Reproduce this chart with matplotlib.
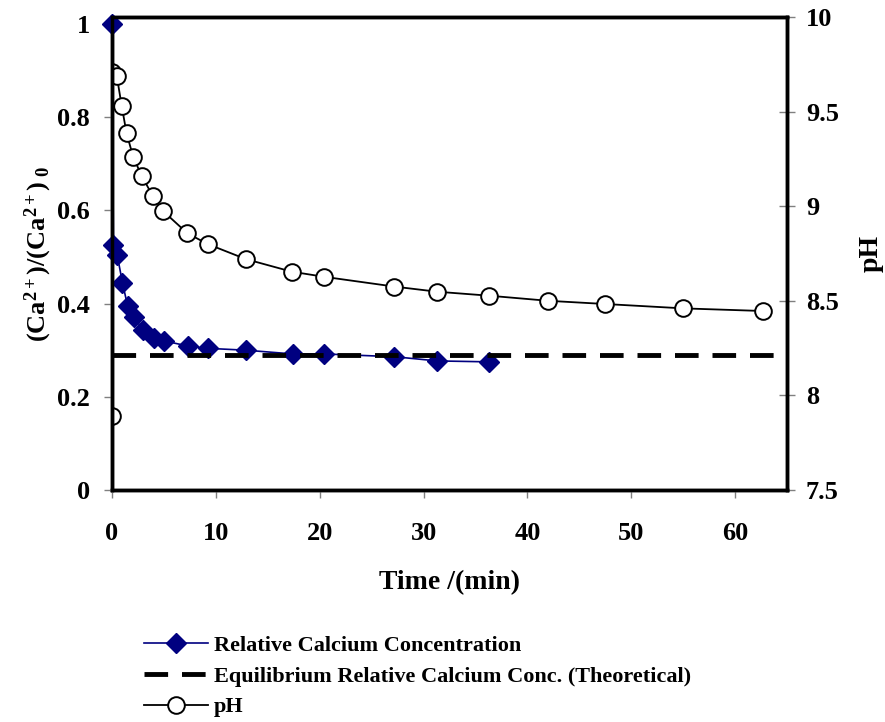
import matplotlib
matplotlib.use("Agg")
import matplotlib.pyplot as plt

# relative calcium concentration (left axis)
t_ca = [0.0, 0.13, 0.5, 1.0, 1.5, 2.15, 2.95, 4.0, 5.0, 7.3, 9.2, 12.9, 17.4, 20.4, 27.2, 31.3, 36.3]
ca_rel = [1.0, 0.526, 0.504, 0.445, 0.395, 0.372, 0.343, 0.327, 0.320, 0.309, 0.304, 0.300, 0.292, 0.292, 0.286, 0.277, 0.275]

# theoretical equilibrium value
eq_t = [0, 65]
eq_val = [0.29, 0.29]

# pH (right axis)
t_ph = [0.0, 0.0, 0.45, 0.93, 1.4, 2.05, 2.86, 3.9, 4.9, 7.25, 9.2, 12.9, 17.3, 20.4, 27.2, 31.3, 36.3, 42.0, 47.5, 55.0, 62.7]
ph = [7.89, 9.71, 9.69, 9.53, 9.385, 9.258, 9.16, 9.056, 8.975, 8.857, 8.80, 8.72, 8.654, 8.627, 8.575, 8.548, 8.527, 8.50, 8.483, 8.46, 8.446]

left_ticks = [0, 0.2, 0.4, 0.6, 0.8, 1]
left_labels = ["0", "0.2", "0.4", "0.6", "0.8", "1"]
right_ticks = [7.5, 8, 8.5, 9, 9.5, 10]
right_labels = ["7.5", "8", "8.5", "9", "9.5", "10"]
x_ticks = [0, 10, 20, 30, 40, 50, 60]

plt.rcParams['font.family'] = ['Liberation Serif', 'DejaVu Serif']
plt.rcParams['font.weight'] = 'bold'
plt.rcParams['mathtext.fontset'] = 'custom'
plt.rcParams['mathtext.rm'] = 'Liberation Serif:bold'
plt.rcParams['mathtext.it'] = 'Liberation Serif:bold'
plt.rcParams['mathtext.bf'] = 'Liberation Serif:bold'
plt.rcParams['lines.scale_dashes'] = False

fig = plt.figure(figsize=(8.85, 7.22), dpi=100)
ax = fig.add_axes([0.1266, 0.3213, 0.8893 - 0.1266, 0.9765 - 0.3213])
ax2 = ax.twinx()

ph_line, = ax2.plot(t_ph, ph, color='black', lw=1.3, marker='o', markersize=12,
                    markerfacecolor='white', markeredgecolor='black', markeredgewidth=1.4,
                    label='pH')
ca_line, = ax.plot(t_ca, ca_rel, color='#000080', lw=1.2, marker='D', markersize=10,
                   markerfacecolor='#000080', markeredgecolor='#000080', clip_on=False,
                   label='Relative Calcium Concentration')
eq_line, = ax.plot(eq_t, eq_val, color='black', lw=3.5, dashes=(17, 10),
                   label='Equilibrium Relative Calcium Conc. (Theoretical)')

ax.set_zorder(ax2.get_zorder() + 1)
ax.patch.set_visible(False)

ax.set_xlim(0, 65)
ax.set_ylim(0, 1.015)
ax2.set_ylim(7.5, 10)

ax.set_xticks(x_ticks)
ax.set_xticklabels([str(v) for v in x_ticks])
ax.set_yticks(left_ticks)
ax.set_yticklabels(left_labels)
ax2.set_yticks(right_ticks)
ax2.set_yticklabels(right_labels)

for a in (ax, ax2):
    for s in a.spines.values():
        s.set_linewidth(2.5)
        s.set_color('black')

ax.tick_params(axis='both', direction='out', length=6, width=1, color='#808080',
               labelsize=19, pad=10)
ax.tick_params(axis='x', pad=17)
ax2.tick_params(axis='y', direction='inout', length=11, width=1, color='#808080',
                labelsize=19, pad=8)

ax.set_xlabel('Time /(min)', fontsize=20, fontweight='bold', labelpad=18)
ax.set_ylabel('(Ca$^{2+}$)/(Ca$^{2+}$)$_{\\ 0}$', fontsize=19, fontweight='bold', labelpad=2)
ax2.set_ylabel('pH', fontsize=20, fontweight='bold', labelpad=14)

fig.legend([ca_line, eq_line, ph_line],
           ['Relative Calcium Concentration',
            'Equilibrium Relative Calcium Conc. (Theoretical)', 'pH'],
           loc='upper left', bbox_to_anchor=(0.15, 0.135), frameon=False,
           prop={'size': 16, 'weight': 'bold'}, handlelength=2.9, handletextpad=0.25,
           labelspacing=0.45, borderpad=0)

fig.savefig('out.png', dpi=100)
